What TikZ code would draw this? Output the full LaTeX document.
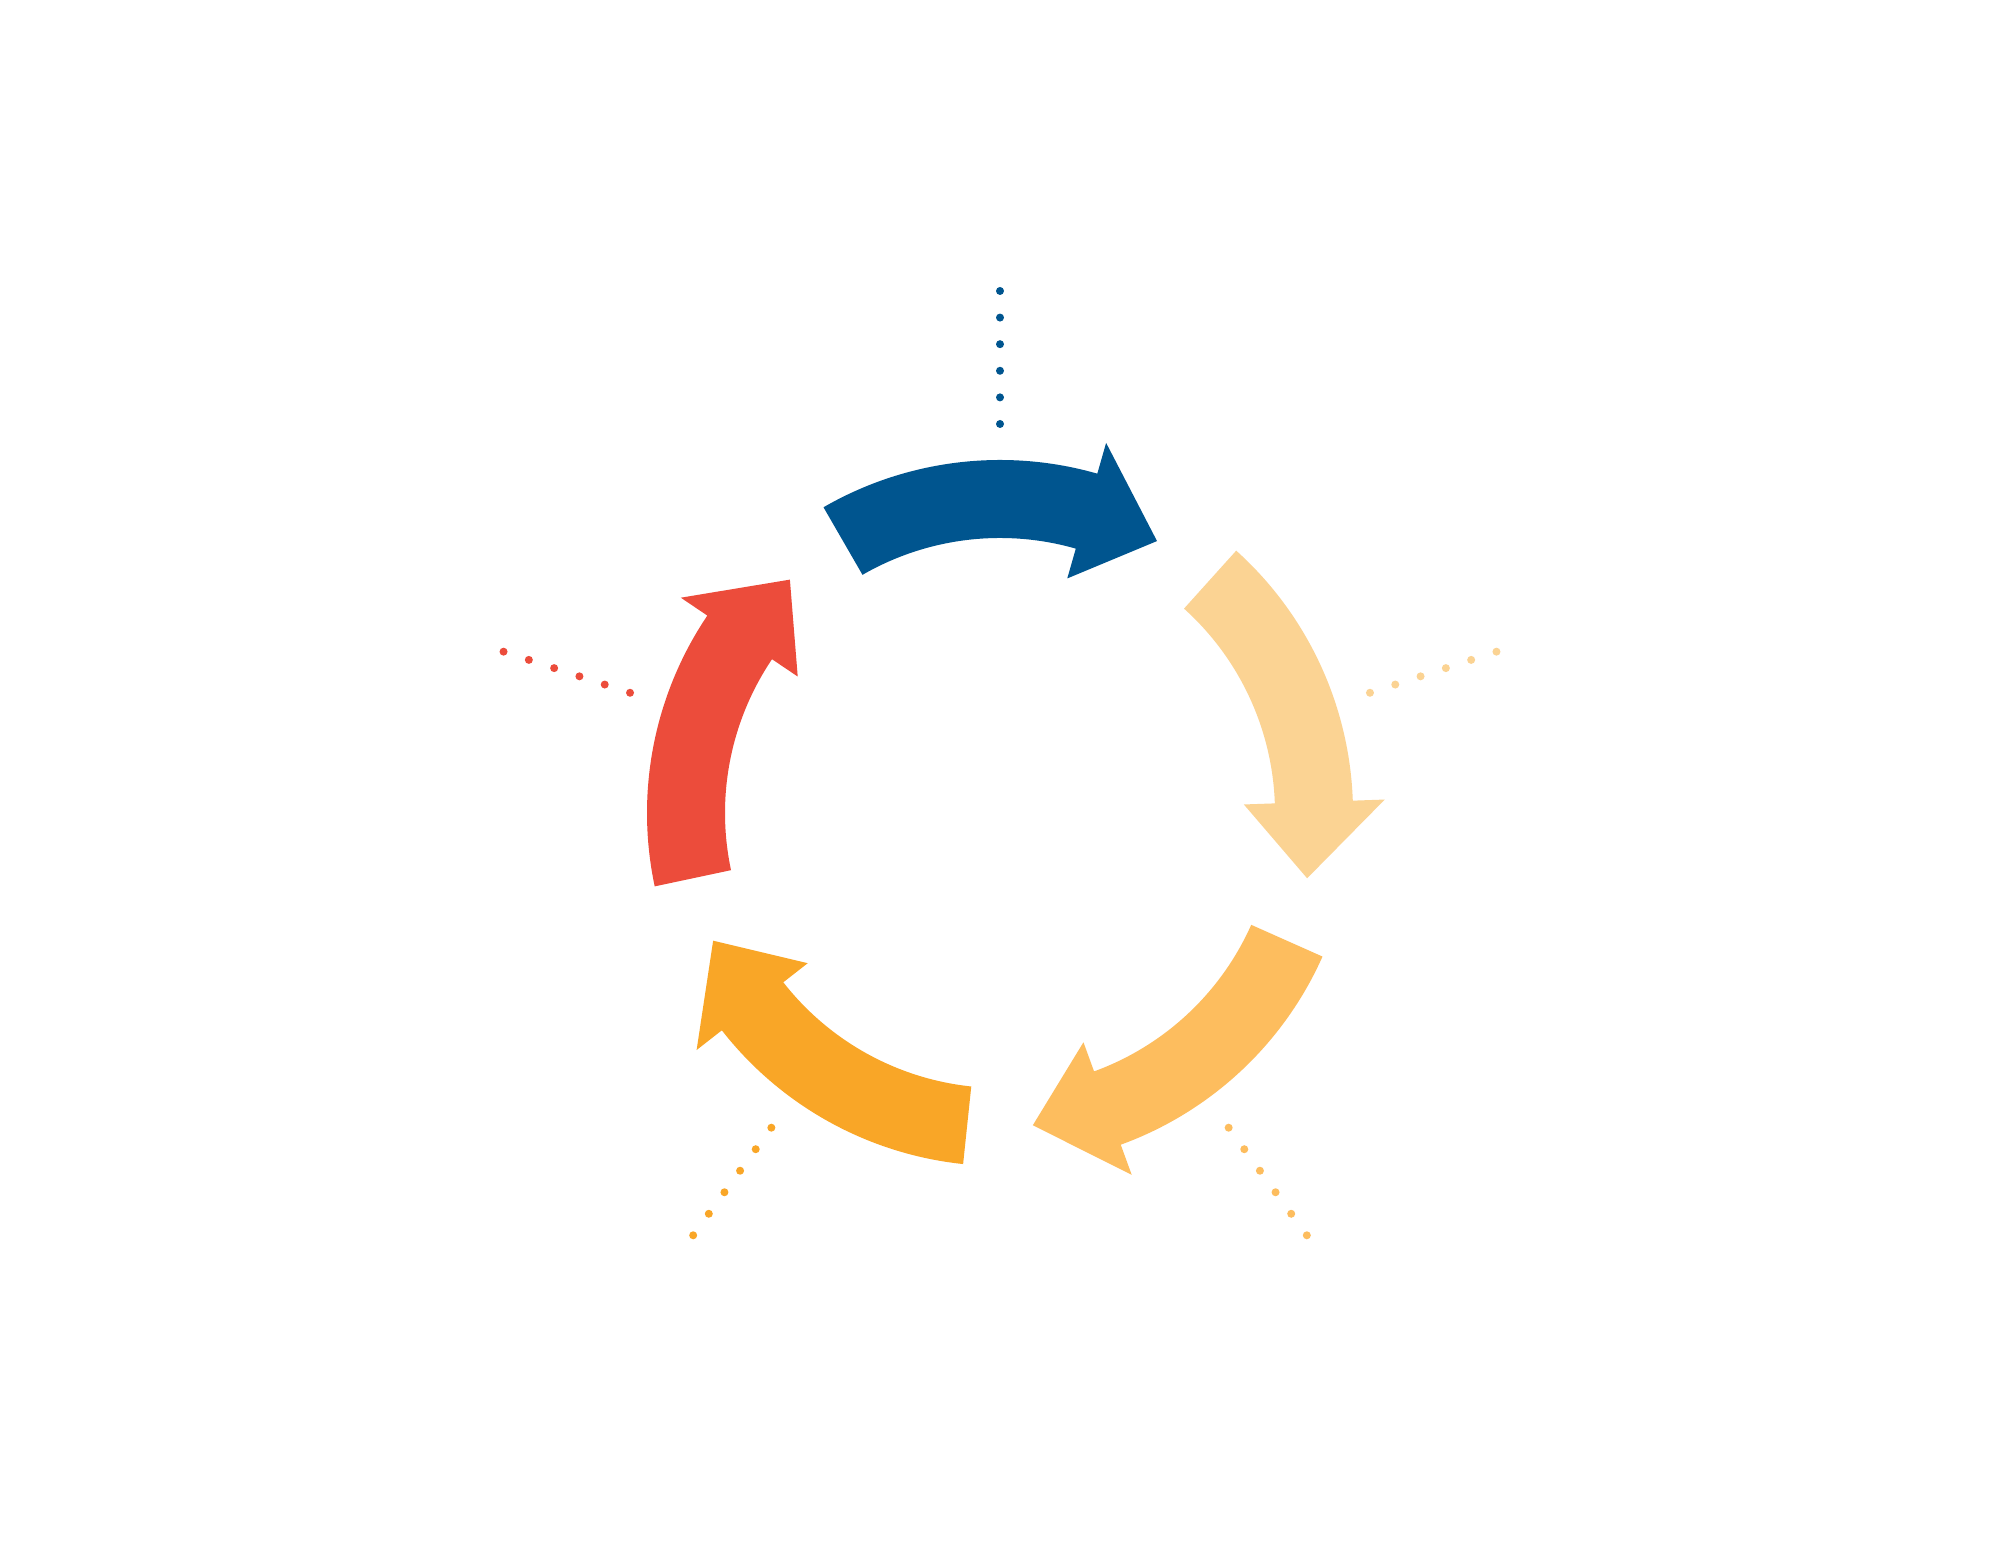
\documentclass[tikz,border=0pt]{standalone}
\usepackage{xcolor}
\usepackage{tikz}
\usetikzlibrary{calc}
\definecolor{cBlue}{HTML}{00558F}
\definecolor{cLight}{HTML}{FBD393}
\definecolor{cYellow}{HTML}{FDBD5E}
\definecolor{cOrange}{HTML}{F9A627}
\definecolor{cRed}{HTML}{EC4C3B}
\newcommand{\CycleArrow}[2]{
	\def\la{#1}
	\def\lfill{#2}
	\fill[\lfill] (\la:3.53) arc (\la:\la-46:3.53) -- (\la-46:3.85) -- (\la-60:3.14)
		-- (\la-46:2.44) -- (\la-46:2.75) arc (\la-46:\la:2.75) -- cycle;
}
\begin{document}
\begin{tikzpicture}
	\useasboundingbox[fill=white] (0,0) rectangle (20,15.62);
	\coordinate (C) at (10,7.49);

\begin{scope}[shift={(C)}]
	\foreach \a/\c in {120/cBlue, 48/cLight, -24/cYellow, -96/cOrange, -168/cRed}
	{
		\CycleArrow{\a}{\c}
		\foreach \i in {0,...,5}
			\fill[\c] (\a-30:3.89+0.266*\i) circle (0.04);
	}
\end{scope}

\end{tikzpicture}
\end{document}
